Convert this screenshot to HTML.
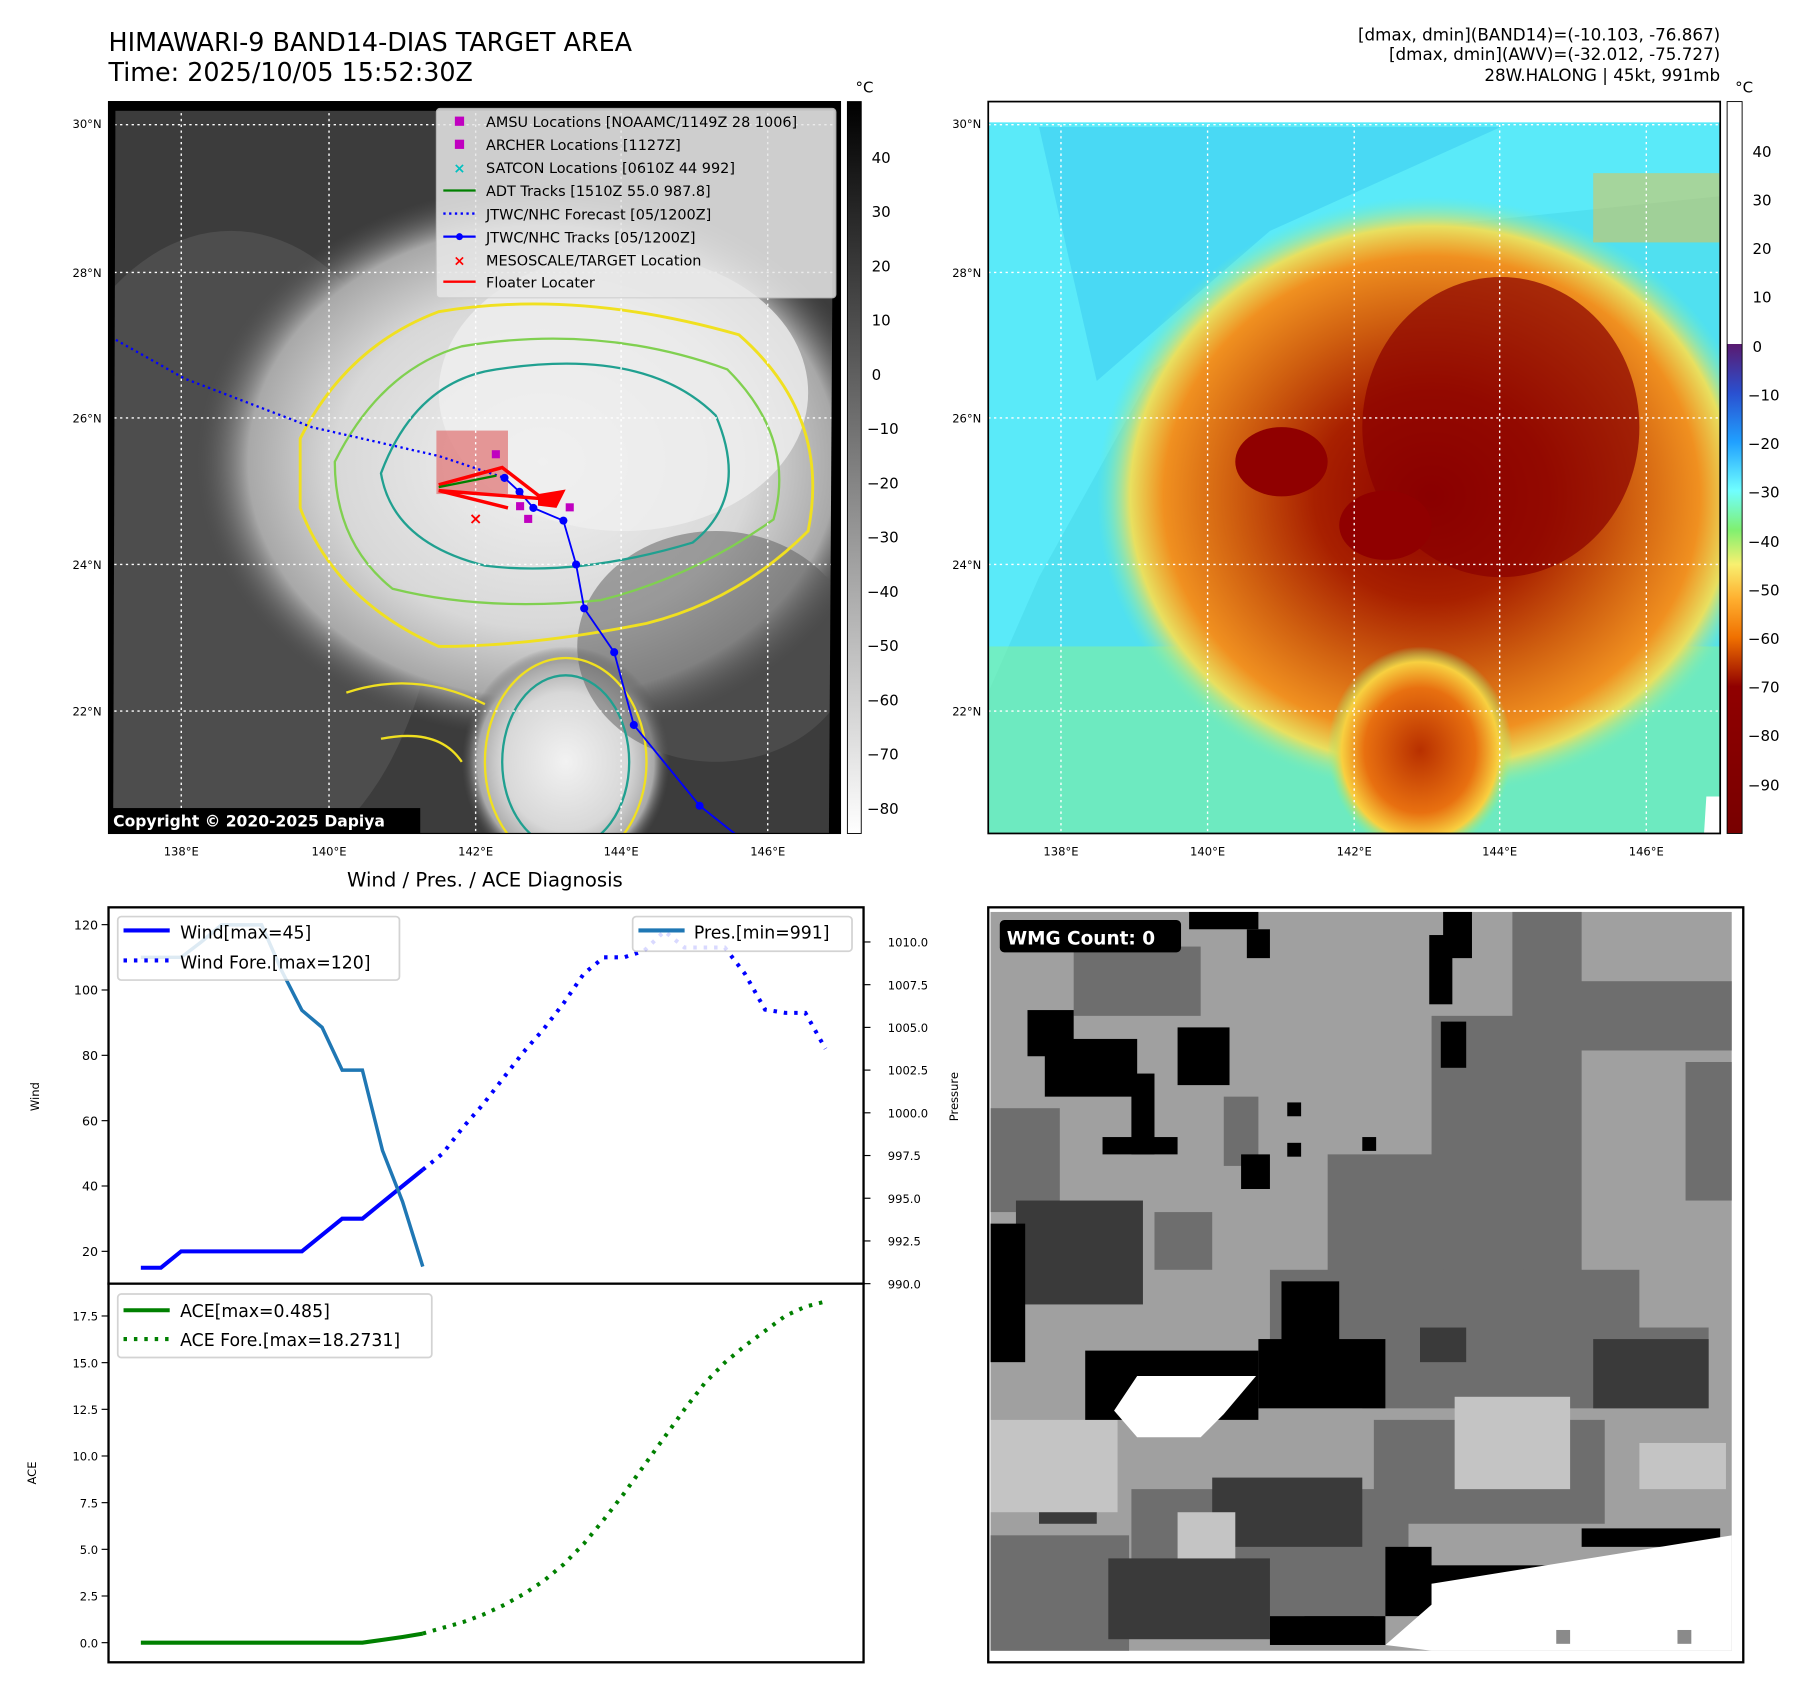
<!DOCTYPE html>
<html><head><meta charset="utf-8"><style>
html,body{margin:0;padding:0;background:#fff}
svg{display:block;font-family:"DejaVu Sans","Liberation Sans",sans-serif}
</style></head><body>
<svg id="fig" width="1801" height="1690" viewBox="0 0 1560 1464" preserveAspectRatio="none" xmlns="http://www.w3.org/2000/svg">
<defs>
<radialGradient id="ltBlob" cx="0.5" cy="0.5" r="0.5"><stop offset="0" stop-color="#f2f2f2"/><stop offset="0.6" stop-color="#d8d8d8"/><stop offset="0.85" stop-color="#a8a8a8"/><stop offset="1" stop-color="#555" stop-opacity="0"/></radialGradient>
<radialGradient id="orBlob" cx="0.5" cy="0.5" r="0.5"><stop offset="0" stop-color="#8a0000"/><stop offset="0.35" stop-color="#a82000"/><stop offset="0.6" stop-color="#d06010"/><stop offset="0.8" stop-color="#f09020"/><stop offset="0.9" stop-color="#e8e060"/><stop offset="1" stop-color="#70f0c0" stop-opacity="0"/></radialGradient>
<radialGradient id="orBlob2" cx="0.5" cy="0.5" r="0.5"><stop offset="0" stop-color="#b83000"/><stop offset="0.6" stop-color="#e87010"/><stop offset="0.85" stop-color="#f8d040"/><stop offset="1" stop-color="#90f080" stop-opacity="0"/></radialGradient>
<linearGradient id="cbGray" x1="0" y1="0" x2="0" y2="1"><stop offset="0" stop-color="#000"/><stop offset="1" stop-color="#fff"/></linearGradient>
<linearGradient id="cbColor" x1="0" y1="0" x2="0" y2="1">
<stop offset="0" stop-color="#5a1a70"/><stop offset="0.1" stop-color="#2a50d0"/><stop offset="0.2" stop-color="#20a0ff"/><stop offset="0.3" stop-color="#70ffff"/><stop offset="0.38" stop-color="#80f070"/><stop offset="0.45" stop-color="#f8f070"/><stop offset="0.52" stop-color="#ffb030"/><stop offset="0.6" stop-color="#f07000"/><stop offset="0.7" stop-color="#900000"/><stop offset="1" stop-color="#780000"/></linearGradient>
<clipPath id="clipL"><rect x="94" y="88" width="634" height="634"/></clipPath>
<clipPath id="clipR"><rect x="856" y="88" width="634" height="634"/></clipPath>
</defs>

<text x="94" y="44" font-size="22">HIMAWARI-9 BAND14-DIAS TARGET AREA</text>
<text x="94" y="70" font-size="22">Time: 2025/10/05 15:52:30Z</text>
<g font-size="14.5" text-anchor="end">
<text x="1490" y="35">[dmax, dmin](BAND14)=(-10.103, -76.867)</text>
<text x="1490" y="52">[dmax, dmin](AWV)=(-32.012, -75.727)</text>
<text x="1490" y="70">28W.HALONG | 45kt, 991mb</text>
</g>

<!-- LEFT MAP -->
<g clip-path="url(#clipL)">
<rect x="94" y="88" width="634" height="634" fill="#3c3c3c"/>
<ellipse cx="200" cy="480" rx="180" ry="280" fill="#585858" opacity="0.6"/>
<ellipse cx="470" cy="400" rx="300" ry="240" fill="url(#ltBlob)"/>
<ellipse cx="540" cy="340" rx="160" ry="120" fill="#efefef" opacity="0.8"/>
<ellipse cx="490" cy="660" rx="90" ry="100" fill="url(#ltBlob)"/>
<ellipse cx="620" cy="560" rx="120" ry="100" fill="#5a5a5a" opacity="0.5"/>
<path d="M260,380 Q300,300 380,270 Q500,250 640,290 Q720,360 700,460 Q640,520 560,540 Q460,560 380,560 Q290,520 260,440 Z" fill="none" stroke="#f0e020" stroke-width="2.5"/>
<path d="M290,400 Q330,320 400,300 Q520,280 630,320 Q690,380 670,450 Q600,500 520,520 Q420,530 340,510 Q290,470 290,400 Z" fill="none" stroke="#80d050" stroke-width="2"/>
<path d="M330,410 Q360,330 430,320 Q560,300 620,360 Q650,430 600,470 Q500,500 420,490 Q340,470 330,410 Z" fill="none" stroke="#20a090" stroke-width="2"/>
<ellipse cx="490" cy="660" rx="55" ry="75" fill="none" stroke="#20a090" stroke-width="2"/>
<ellipse cx="490" cy="660" rx="70" ry="90" fill="none" stroke="#f0e020" stroke-width="2"/>
<path d="M300,600 Q360,580 420,610 M330,640 Q380,630 400,660" fill="none" stroke="#f0e020" stroke-width="2"/>
<rect x="378" y="373" width="62" height="55" fill="#e07070" opacity="0.7"/>
<g stroke="#fff" stroke-dasharray="2,3" stroke-width="1.2">
<line x1="157" y1="88" x2="157" y2="722"/><line x1="285" y1="88" x2="285" y2="722"/><line x1="412" y1="88" x2="412" y2="722"/><line x1="538" y1="88" x2="538" y2="722"/><line x1="665" y1="88" x2="665" y2="722"/>
<line x1="94" y1="108" x2="728" y2="108"/><line x1="94" y1="236" x2="728" y2="236"/><line x1="94" y1="362" x2="728" y2="362"/><line x1="94" y1="489" x2="728" y2="489"/><line x1="94" y1="616" x2="728" y2="616"/>
</g>
<polyline points="96,292 160,328 270,370 380,395 437,414" fill="none" stroke="#0000ff" stroke-width="2" stroke-dasharray="2,3"/>
<polyline points="437,414 450,426 462,440 488,451 499,489 506,527 532,565 549,628 606,698 640,725" fill="none" stroke="#0000ff" stroke-width="1.6"/>
<g fill="#0000ff"><circle cx="437" cy="414" r="3.5"/><circle cx="450" cy="426" r="3.5"/><circle cx="462" cy="440" r="3.5"/><circle cx="488" cy="451" r="3.5"/><circle cx="499" cy="489" r="3.5"/><circle cx="506" cy="527" r="3.5"/><circle cx="532" cy="565" r="3.5"/><circle cx="549" cy="628" r="3.5"/><circle cx="606" cy="698" r="3.5"/></g>
<polyline points="380,420 435,405 470,432 380,425 440,440" fill="none" stroke="#ff0000" stroke-width="3"/>
<polyline points="380,422 430,412" fill="none" stroke="#008000" stroke-width="2"/>
<polygon points="466,428 490,424 482,440 466,438" fill="#ff0000"/>
<g fill="#c000c0"><rect x="426" y="390" width="7" height="7"/><rect x="490" y="436" width="7" height="7"/><rect x="454" y="446" width="7" height="7"/><rect x="447" y="435" width="7" height="7"/></g>
<text x="412" y="454" fill="#ff0000" font-size="14" text-anchor="middle" font-weight="bold">×</text>
<polygon points="94,722 94,88 100,88 98,722" fill="#000"/>
<polygon points="728,88 728,722 718,722 722,88" fill="#000"/>
<rect x="94" y="88" width="634" height="8" fill="#000"/>
</g>
<rect x="94" y="88" width="634" height="634" fill="none" stroke="#000" stroke-width="1"/>
<g font-size="12.5">
<rect x="378" y="94" width="346" height="164" rx="3" fill="#e8e8e8" opacity="0.85" stroke="#ccc"/>
<rect x="394" y="101" width="8" height="8" fill="#c000c0"/><text x="421" y="110">AMSU Locations [NOAAMC/1149Z 28 1006]</text>
<rect x="394" y="121" width="8" height="8" fill="#c000c0"/><text x="421" y="130">ARCHER Locations [1127Z]</text>
<text x="398" y="150" fill="#00c0c0" text-anchor="middle" font-weight="bold">×</text><text x="421" y="150">SATCON Locations [0610Z 44 992]</text>
<line x1="384" y1="165" x2="412" y2="165" stroke="#008000" stroke-width="2"/><text x="421" y="170">ADT Tracks [1510Z 55.0 987.8]</text>
<line x1="384" y1="185" x2="412" y2="185" stroke="#0000ff" stroke-width="2" stroke-dasharray="2,3"/><text x="421" y="190">JTWC/NHC Forecast [05/1200Z]</text>
<line x1="384" y1="205" x2="412" y2="205" stroke="#0000ff" stroke-width="2"/><circle cx="398" cy="205" r="3" fill="#0000ff"/><text x="421" y="210">JTWC/NHC Tracks [05/1200Z]</text>
<text x="398" y="230" fill="#ff0000" text-anchor="middle" font-weight="bold">×</text><text x="421" y="230">MESOSCALE/TARGET Location</text>
<line x1="384" y1="244" x2="412" y2="244" stroke="#ff0000" stroke-width="2"/><text x="421" y="249">Floater Locater</text>
</g>
<g><rect x="94" y="700" width="270" height="22" fill="#000"/><text x="98" y="716" fill="#fff" font-size="13.5" font-weight="bold">Copyright © 2020-2025 Dapiya</text></g>
<g font-size="10">
<text x="88" y="111" text-anchor="end">30°N</text><text x="88" y="240" text-anchor="end">28°N</text><text x="88" y="366" text-anchor="end">26°N</text><text x="88" y="493" text-anchor="end">24°N</text><text x="88" y="620" text-anchor="end">22°N</text>
<g text-anchor="middle"><text x="157" y="741">138°E</text><text x="285" y="741">140°E</text><text x="412" y="741">142°E</text><text x="538" y="741">144°E</text><text x="665" y="741">146°E</text></g>
</g>
<g>
<rect x="734" y="88" width="12" height="634" fill="url(#cbGray)" stroke="#000" stroke-width="0.8"/>
<text x="741" y="80" font-size="13">°C</text>
<g font-size="13"><text x="755" y="141">40</text><text x="755" y="188">30</text><text x="755" y="235">20</text><text x="755" y="282">10</text><text x="755" y="329">0</text><text x="751" y="376">−10</text><text x="751" y="423">−20</text><text x="751" y="470">−30</text><text x="751" y="517">−40</text><text x="751" y="564">−50</text><text x="751" y="611">−60</text><text x="751" y="658">−70</text><text x="751" y="705">−80</text></g>
</g>

<!-- RIGHT MAP -->
<g clip-path="url(#clipR)">
<rect x="856" y="88" width="634" height="634" fill="#50e0f0"/>
<polygon points="856,100 1490,100 1490,170 1200,200 1000,320 900,500 856,600" fill="#60f0ff" opacity="0.6"/>
<polygon points="900,110 1300,110 1100,200 950,330" fill="#38c8f0" opacity="0.5"/>
<rect x="856" y="560" width="634" height="162" fill="#80f0a0" opacity="0.6"/>
<ellipse cx="1240" cy="430" rx="290" ry="260" fill="url(#orBlob)"/>
<ellipse cx="1300" cy="370" rx="120" ry="130" fill="#8a0000" opacity="0.7"/>
<ellipse cx="1200" cy="455" rx="40" ry="30" fill="#900000"/>
<ellipse cx="1110" cy="400" rx="40" ry="30" fill="#900000"/>
<ellipse cx="1230" cy="650" rx="80" ry="90" fill="url(#orBlob2)"/>
<rect x="1380" y="150" width="110" height="60" fill="#f0c040" opacity="0.5"/>
<g stroke="#fff" stroke-dasharray="2,3" stroke-width="1.2">
<line x1="919" y1="88" x2="919" y2="722"/><line x1="1046" y1="88" x2="1046" y2="722"/><line x1="1173" y1="88" x2="1173" y2="722"/><line x1="1299" y1="88" x2="1299" y2="722"/><line x1="1426" y1="88" x2="1426" y2="722"/>
<line x1="856" y1="108" x2="1490" y2="108"/><line x1="856" y1="236" x2="1490" y2="236"/><line x1="856" y1="362" x2="1490" y2="362"/><line x1="856" y1="489" x2="1490" y2="489"/><line x1="856" y1="616" x2="1490" y2="616"/>
</g>
<rect x="856" y="88" width="634" height="18" fill="#fff"/>
<polygon points="1478,690 1490,690 1490,722 1476,722" fill="#fff"/>
</g>
<rect x="856" y="88" width="634" height="634" fill="none" stroke="#000" stroke-width="1.5"/>
<g font-size="10">
<text x="850" y="111" text-anchor="end">30°N</text><text x="850" y="240" text-anchor="end">28°N</text><text x="850" y="366" text-anchor="end">26°N</text><text x="850" y="493" text-anchor="end">24°N</text><text x="850" y="620" text-anchor="end">22°N</text>
<g text-anchor="middle"><text x="919" y="741">138°E</text><text x="1046" y="741">140°E</text><text x="1173" y="741">142°E</text><text x="1299" y="741">144°E</text><text x="1426" y="741">146°E</text></g>
</g>
<g>
<rect x="1496" y="88" width="13" height="210" fill="#fff"/>
<rect x="1496" y="298" width="13" height="424" fill="url(#cbColor)"/>
<rect x="1496" y="88" width="13" height="634" fill="none" stroke="#000" stroke-width="0.8"/>
<text x="1503" y="80" font-size="13">°C</text>
<g font-size="13"><text x="1518" y="136">40</text><text x="1518" y="178">30</text><text x="1518" y="220">20</text><text x="1518" y="262">10</text><text x="1518" y="305">0</text><text x="1514" y="347">−10</text><text x="1514" y="389">−20</text><text x="1514" y="431">−30</text><text x="1514" y="474">−40</text><text x="1514" y="516">−50</text><text x="1514" y="558">−60</text><text x="1514" y="600">−70</text><text x="1514" y="642">−80</text><text x="1514" y="685">−90</text></g>
</g>

<!-- WIND / PRES / ACE -->
<text x="420" y="768" font-size="17" text-anchor="middle">Wind / Pres. / ACE Diagnosis</text>
<g id="windChart"></g>
<g id="aceChart"></g>

<!-- WMG -->
<g>
<rect x="856" y="786" width="654" height="654" fill="#fff"/>
<rect x="858" y="790" width="642" height="640" fill="#a0a0a0"/>
<g fill="#6e6e6e">
<rect x="1310" y="790" width="60" height="320"/><rect x="1340" y="850" width="160" height="60"/><rect x="1240" y="880" width="80" height="260"/><rect x="930" y="820" width="110" height="60"/><rect x="858" y="960" width="60" height="90"/><rect x="1150" y="1000" width="100" height="120"/><rect x="1100" y="1100" width="320" height="80"/><rect x="980" y="1290" width="240" height="110"/><rect x="858" y="1330" width="120" height="100"/><rect x="1180" y="1150" width="300" height="70"/><rect x="1060" y="950" width="30" height="60"/><rect x="1000" y="1050" width="50" height="50"/><rect x="1190" y="1230" width="200" height="90"/><rect x="1460" y="920" width="40" height="120"/>
</g>
<g fill="#3a3a3a">
<rect x="880" y="1040" width="110" height="90"/><rect x="960" y="1350" width="140" height="70"/><rect x="1230" y="1150" width="40" height="30"/><rect x="1380" y="1160" width="100" height="60"/><rect x="1050" y="1280" width="130" height="60"/><rect x="1130" y="1400" width="60" height="20"/><rect x="900" y="1300" width="50" height="20"/>
</g>
<g fill="#c4c4c4">
<rect x="858" y="1230" width="110" height="80"/><rect x="1260" y="1210" width="100" height="80"/><rect x="1420" y="1250" width="75" height="40"/><rect x="1020" y="1310" width="50" height="40"/>
</g>
<g fill="#000">
<rect x="1030" y="790" width="60" height="15"/><rect x="1080" y="805" width="20" height="25"/><rect x="1250" y="790" width="25" height="40"/><rect x="1238" y="810" width="20" height="60"/><rect x="1248" y="885" width="22" height="40"/><rect x="890" y="875" width="40" height="40"/><rect x="905" y="900" width="80" height="50"/><rect x="1020" y="890" width="45" height="50"/><rect x="980" y="930" width="20" height="70"/><rect x="955" y="985" width="65" height="15"/><rect x="1075" y="1000" width="25" height="30"/><rect x="1115" y="955" width="12" height="12"/><rect x="1115" y="990" width="12" height="12"/><rect x="1180" y="985" width="12" height="12"/><rect x="858" y="1060" width="30" height="120"/><rect x="1110" y="1110" width="50" height="60"/><rect x="1090" y="1160" width="110" height="60"/><rect x="940" y="1170" width="150" height="60"/><rect x="1100" y="1400" width="100" height="25"/><rect x="1200" y="1340" width="40" height="60"/><rect x="1230" y="1356" width="120" height="16"/><rect x="1370" y="1324" width="120" height="16"/>
</g>
<polygon points="985,1192 1088,1192 1060,1225 1040,1245 985,1245 965,1222" fill="#fff"/>
<g fill="#fff"><polygon points="1240,1372 1500,1330 1500,1430 1240,1430 1200,1425 1240,1390"/></g>
<rect x="1348" y="1412" width="12" height="12" fill="#8a8a8a"/><rect x="1453" y="1412" width="12" height="12" fill="#8a8a8a"/>
<rect x="856" y="786" width="654" height="654" fill="none" stroke="#000" stroke-width="2"/>
<g><rect x="866" y="797" width="157" height="28" rx="4" fill="#000"/><text x="872" y="818" fill="#fff" font-size="16" font-weight="bold">WMG Count: 0</text></g>
</g>

<script>
// ---- chart data ----
var windObs = [15,15,20,20,20,20,20,20,20,25,30,30,35,40,45];
var windFore = [45,50,58,65,73,81,88,96,105,110,110,112,118,113,113,113,105,94,93,93,82];
var windForeStart = 14;
var presObs = [1009.1,1009.1,1009.1,1010,1011,1011,1011,1008.3,1006,1005,1002.5,1002.5,997.8,994.8,991];
var aceObs = [0,0,0,0,0,0,0,0,0,0,0,0,0.15,0.3,0.485];
var aceFore = [0.49,0.8,1.1,1.5,2.0,2.6,3.3,4.2,5.3,6.6,8.0,9.5,11.0,12.5,13.9,15.0,15.9,16.7,17.5,18.0,18.27];
var windTicks = [20,40,60,80,100,120];
var presTicks = ["990.0","992.5","995.0","997.5","1000.0","1002.5","1005.0","1007.5","1010.0"];
var aceTicks = ["0.0","2.5","5.0","7.5","10.0","12.5","15.0","17.5"];

var NS = "http://www.w3.org/2000/svg";
function mk(tag, attrs, parent, txt){var e=document.createElementNS(NS,tag);for(var k in attrs)e.setAttribute(k,attrs[k]);if(txt!==undefined)e.textContent=txt;parent.appendChild(e);return e;}
var nIdx = windForeStart + windFore.length - 1;
function xS(i){return 122 + (715-122)*i/nIdx;}
function yW(v){return 1084 - (v-20)*(1084-801)/100;}
function yP(v){return 1112 - (v-990)*(1112-816)/20;}
function yA(v){return 1423 - v*(1423-1140)/17.5;}
function pts(arr, off, yf){return arr.map(function(v,i){return xS(i+off).toFixed(1)+","+yf(v).toFixed(1);}).join(" ");}

var wg = document.getElementById('windChart');
mk('rect',{x:94,y:786,width:654,height:326,fill:'#fff',stroke:'#000','stroke-width':2},wg);
windTicks.forEach(function(t){var y=yW(t);mk('line',{x1:88,y1:y,x2:94,y2:y,stroke:'#000'},wg);var tx=mk('text',{x:85,y:y+4,'font-size':11,'text-anchor':'end'},wg,String(t));});
presTicks.forEach(function(t){var y=yP(parseFloat(t));mk('line',{x1:748,y1:y,x2:754,y2:y,stroke:'#000'},wg);var tx=mk('text',{x:769,y:y+4,'font-size':10},wg,t);});
mk('text',{x:34,y:950,'font-size':10,'text-anchor':'middle',transform:'rotate(-90 34 950)'},wg,'Wind');
mk('text',{x:830,y:950,'font-size':10,'text-anchor':'middle',transform:'rotate(-90 830 950)'},wg,'Pressure');
var l1=mk('polyline',{points:pts(windFore,windForeStart,yW),fill:'none',stroke:'#0000ff','stroke-width':3.5,'stroke-dasharray':'3,6'},wg);

var l2=mk('polyline',{points:pts(windObs,0,yW),fill:'none',stroke:'#0000ff','stroke-width':3.5},wg);

var l3=mk('polyline',{points:pts(presObs,0,yP),fill:'none',stroke:'#1f77b4','stroke-width':3},wg);

var lg=mk('g',{},wg);

mk('rect',{x:102,y:794,width:244,height:55,rx:3,fill:'#fff',opacity:0.85,stroke:'#ccc','stroke-width':1.5},lg);
mk('line',{x1:107,y1:806,x2:147,y2:806,stroke:'#0000ff','stroke-width':3.5},lg);
mk('text',{x:156,y:813,'font-size':15},lg,'Wind[max=45]');
mk('line',{x1:107,y1:832,x2:147,y2:832,stroke:'#0000ff','stroke-width':3.5,'stroke-dasharray':'3,6'},lg);
mk('text',{x:156,y:839,'font-size':15},lg,'Wind Fore.[max=120]');
var lg2=mk('g',{},wg);

mk('rect',{x:548,y:794,width:190,height:30,rx:3,fill:'#fff',opacity:0.85,stroke:'#ccc','stroke-width':1.5},lg2);
mk('line',{x1:553,y1:806,x2:593,y2:806,stroke:'#1f77b4','stroke-width':3.5},lg2);
mk('text',{x:601,y:813,'font-size':15},lg2,'Pres.[min=991]');

var ag = document.getElementById('aceChart');
mk('rect',{x:94,y:1112,width:654,height:328,fill:'#fff',stroke:'#000','stroke-width':2},ag);
aceTicks.forEach(function(t){var y=yA(parseFloat(t));mk('line',{x1:88,y1:y,x2:94,y2:y,stroke:'#000'},ag);var tx=mk('text',{x:85,y:y+4,'font-size':10,'text-anchor':'end'},ag,t);});
mk('text',{x:31,y:1276,'font-size':10,'text-anchor':'middle',transform:'rotate(-90 31 1276)'},ag,'ACE');
var a1=mk('polyline',{points:pts(aceFore,windForeStart,yA),fill:'none',stroke:'#008000','stroke-width':3.5,'stroke-dasharray':'3,6'},ag);

var a2=mk('polyline',{points:pts(aceObs,0,yA),fill:'none',stroke:'#008000','stroke-width':3.5},ag);

var lg3=mk('g',{},ag);

mk('rect',{x:102,y:1121,width:272,height:55,rx:3,fill:'#fff',opacity:0.85,stroke:'#ccc','stroke-width':1.5},lg3);
mk('line',{x1:107,y1:1135,x2:147,y2:1135,stroke:'#008000','stroke-width':3.5},lg3);
mk('text',{x:156,y:1141,'font-size':15},lg3,'ACE[max=0.485]');
mk('line',{x1:107,y1:1160,x2:147,y2:1160,stroke:'#008000','stroke-width':3.5,'stroke-dasharray':'3,6'},lg3);
mk('text',{x:156,y:1166,'font-size':15},lg3,'ACE Fore.[max=18.2731]');
</script>
</svg>
</body></html>
